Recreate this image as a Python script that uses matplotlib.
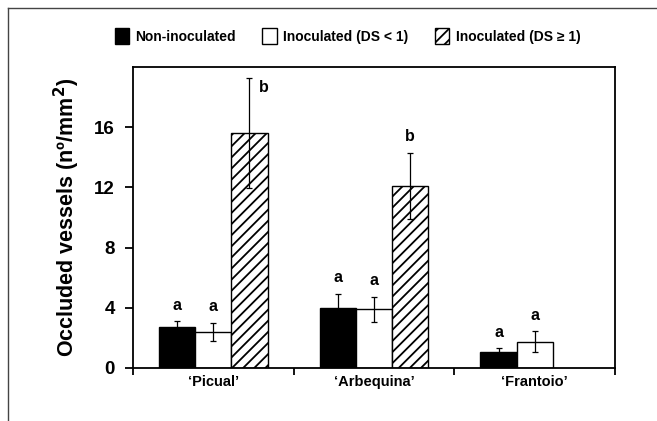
import matplotlib
matplotlib.use("Agg")
import matplotlib.pyplot as plt
import numpy as np
from matplotlib.lines import Line2D

plt.rcParams['font.family'] = ['Liberation Sans', 'DejaVu Sans']
plt.rcParams['font.weight'] = 'bold'
plt.rcParams['hatch.linewidth'] = 1.3

cultivars = ["\u2018Picual\u2019", "\u2018Arbequina\u2019", "\u2018Frantoio\u2019"]
series_names = ["Non-inoculated", "Inoculated (DS < 1)", "Inoculated (DS \u2265 1)"]
non_inoc = [2.72, 4.0, 1.05]
non_inoc_err = [0.4, 0.95, 0.25]
inoc_low = [2.4, 3.9, 1.73]
inoc_low_err = [0.62, 0.85, 0.7]
inoc_high = [15.6, 12.1, np.nan]
inoc_high_err = [3.65, 2.2, np.nan]
letters_non = ["a", "a", "a"]
letters_low = ["a", "a", "a"]
letters_high = ["b", "b", ""]
yticks = [0, 4, 8, 12, 16]

fig = plt.figure(figsize=(6.57, 4.21), dpi=100)
ax = fig.add_axes([133/657, 1-368/421, (615-133)/657, (368-67)/421])

x = np.arange(len(cultivars))
w = 0.225
styles = [dict(color='black', edgecolor='black'),
          dict(color='white', edgecolor='black'),
          dict(color='white', edgecolor='black', hatch='///')]
vals = [non_inoc, inoc_low, inoc_high]
errs = [non_inoc_err, inoc_low_err, inoc_high_err]
lets = [letters_non, letters_low, letters_high]

handles = []
for j in range(3):
    xs = x + (j - 1) * w
    b = ax.bar(xs, vals[j], width=w, linewidth=1.0, label=series_names[j], **styles[j])
    handles.append(b)
    ax.errorbar(xs, vals[j], yerr=errs[j], fmt='none', ecolor='black',
                elinewidth=0.9, capsize=2.2, capthick=0.9)
    for i in range(3):
        v = vals[j][i]
        e = errs[j][i]
        if np.isnan(v) or not lets[j][i]:
            continue
        top = v + e
        if top > 18.5:
            ax.annotate(lets[j][i], (xs[i], top), xytext=(7, -1), textcoords='offset points',
                        ha='left', va='top', fontsize=11.5, fontweight='bold')
        else:
            ax.annotate(lets[j][i], (xs[i], top), xytext=(0, 6), textcoords='offset points',
                        ha='center', va='bottom', fontsize=11.5, fontweight='bold')

ax.set_xlim(-0.5, 2.5)
ax.set_ylim(0, 20)
ax.set_yticks(yticks)
ax.set_yticklabels([str(t) for t in yticks], fontsize=13.5, fontweight='bold')
ax.set_xticks([-0.5, 0.5, 1.5, 2.5])
ax.set_xticklabels([])
ax.set_xticks(x, minor=True)
ax.set_xticklabels(cultivars, minor=True, fontsize=10.5, fontweight='bold')
ax.tick_params(axis='x', which='minor', length=0, pad=5)
ax.tick_params(axis='x', which='major', direction='out', length=5, width=1.3)
ax.tick_params(axis='y', direction='out', length=6, width=1.3, pad=7)
for s in ax.spines.values():
    s.set_linewidth(1.3)
ax.set_ylabel("Occluded vessels (n\u00ba/mm$^\\mathbf{2}$)", fontsize=15.5, fontweight='bold', labelpad=9)

fig.legend(handles=handles, labels=series_names, loc='center', bbox_to_anchor=(347.5/657, 1-36/421),
           ncol=3, frameon=False, handlelength=1.05, handleheight=1.3,
           handletextpad=0.45, columnspacing=1.9, prop={'weight': 'bold', 'size': 10})

fig.add_artist(Line2D([8/657, 8/657], [0, 1-8/421], transform=fig.transFigure, color='#444444', lw=1))
fig.add_artist(Line2D([8/657, 1], [1-8/421, 1-8/421], transform=fig.transFigure, color='#444444', lw=1))

fig.savefig("out.png", dpi=100)
